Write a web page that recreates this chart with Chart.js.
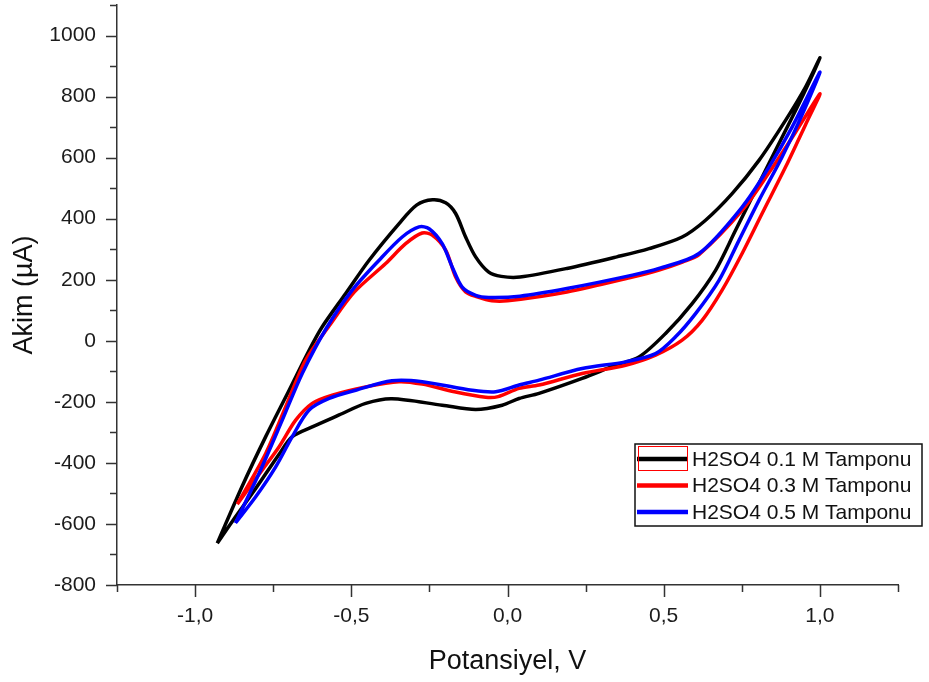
<!DOCTYPE html>
<html>
<head>
<meta charset="utf-8">
<script src="https://cdn.jsdelivr.net/npm/chart.js@4.4.1/dist/chart.umd.min.js"></script>
<style>
  body { margin: 0; background: #fff; }
  #wrap { width: 929px; height: 682px; }
</style>
</head>
<body>
<div id="wrap"><canvas id="cv" width="929" height="682"></canvas></div>
<script>
// series names
const seriesNames = ["H2SO4 0.1 M Tamponu", "H2SO4 0.3 M Tamponu", "H2SO4 0.5 M Tamponu"];
const seriesColors = ["#000000", "#ff0000", "#0000ff"];

// 0.1 M : forward scan then reverse scan (potential V, current uA)
const blackX = [-0.929, -0.85, -0.774, -0.699, -0.635, -0.593, -0.518, -0.443, -0.347, -0.29, -0.24, -0.198, -0.166, -0.134, -0.102, -0.06, -0.02, 0.04, 0.19, 0.35, 0.453, 0.559, 0.634, 0.719, 0.805, 0.89, 0.954, 1.0,
  0.933, 0.858, 0.794, 0.73, 0.666, 0.591, 0.506, 0.421, 0.346, 0.239, 0.101, 0.037, -0.017, -0.102, -0.209, -0.37, -0.454, -0.539, -0.625, -0.689, -0.73, -0.81, -0.88, -0.929];
const blackY = [-663, -478, -314, -162, -31, 46, 155, 264, 384, 445, 462, 452, 417, 340, 275, 225, 211, 209, 237, 275, 302, 340, 395, 482, 591, 722, 831, 927,
  777, 624, 493, 362, 231, 122, 24, -53, -80, -123, -172, -189, -211, -225, -211, -190, -205, -243, -282, -314, -370, -490, -590, -663];

// 0.3 M
const redX = [-0.865, -0.774, -0.71, -0.646, -0.57, -0.49, -0.39, -0.326, -0.273, -0.241, -0.198, -0.166, -0.134, -0.097, -0.05, 0.0, 0.19, 0.40, 0.485, 0.56, 0.613, 0.751, 0.84, 0.92, 1.0,
  0.954, 0.89, 0.815, 0.751, 0.687, 0.623, 0.559, 0.474, 0.378, 0.239, 0.101, 0.037, -0.03, -0.07, -0.17, -0.273, -0.347, -0.454, -0.561, -0.625, -0.678, -0.731, -0.785, -0.865];
const redY = [-535, -369, -216, -63, 50, 160, 253, 318, 353, 346, 297, 209, 160, 144, 131, 131, 160, 209, 232, 258, 282, 427, 555, 680, 809,
  708, 569, 417, 286, 166, 67, 2, -47, -80, -107, -145, -156, -183, -185, -167, -142, -134, -151, -178, -205, -260, -347, -423, -535];

// 0.5 M
const blueX = [-0.871, -0.795, -0.721, -0.657, -0.58, -0.497, -0.411, -0.337, -0.283, -0.251, -0.209, -0.177, -0.145, -0.102, -0.06, 0.04, 0.19, 0.40, 0.485, 0.613, 0.751, 0.837, 0.911, 1.0,
  0.943, 0.879, 0.805, 0.741, 0.677, 0.602, 0.538, 0.474, 0.378, 0.239, 0.101, 0.037, -0.038, -0.113, -0.273, -0.37, -0.486, -0.571, -0.635, -0.689, -0.742, -0.806, -0.871];
const blueY = [-597, -434, -260, -107, 41, 166, 264, 340, 373, 367, 318, 242, 176, 149, 142, 146, 171, 215, 237, 286, 438, 569, 700, 880,
  740, 602, 460, 329, 198, 89, 13, -42, -69, -91, -129, -145, -167, -162, -134, -131, -162, -189, -227, -314, -413, -511, -597];

// axis ticks
const xTickValues = [-1.0, -0.5, 0.0, 0.5, 1.0];
const xTickLabels = ["-1,0", "-0,5", "0,0", "0,5", "1,0"];
const yTickValues = [-800, -600, -400, -200, 0, 200, 400, 600, 800, 1000];

function toPoints(xs, ys) {
  return xs.map(function (x, i) { return { x: x, y: ys[i] }; });
}

Chart.defaults.font.family = "'Liberation Sans', Arial, sans-serif";
Chart.defaults.color = "#1b1b1b";

// tick marks: long for labelled ticks, short for the others
const tickMarks = {
  id: "tickMarks",
  afterDraw(chart) {
    const ctx = chart.ctx;
    const xs = chart.scales.x, ys = chart.scales.y;
    ctx.save();
    ctx.strokeStyle = "#333";
    ctx.lineWidth = 1.5;
    ctx.beginPath();
    xs.ticks.forEach(function (t) {
      const px = Math.round(xs.getPixelForValue(t.value)) + 0.5;
      const len = t.label ? 12 : 7;
      ctx.moveTo(px, xs.top);
      ctx.lineTo(px, xs.top + len);
    });
    ys.ticks.forEach(function (t) {
      const py = Math.round(ys.getPixelForValue(t.value)) + 0.5;
      const len = t.label ? 11 : 7;
      ctx.moveTo(ys.right, py);
      ctx.lineTo(ys.right - len, py);
    });
    ctx.stroke();
    ctx.restore();
  }
};

// boxed legend in the lower right
const boxLegend = {
  id: "boxLegend",
  afterDraw(chart) {
    const ctx = chart.ctx;
    const left = 635, top = 444, w = 287, h = 82;
    ctx.save();
    ctx.fillStyle = "#fff";
    ctx.fillRect(left, top, w, h);
    ctx.strokeStyle = "#111";
    ctx.lineWidth = 1.5;
    ctx.strokeRect(left, top, w, h);
    ctx.font = "21px 'Liberation Sans', Arial, sans-serif";
    ctx.textBaseline = "middle";
    chart.data.datasets.forEach(function (ds, i) {
      const cy = top + 15 + i * 26.5;
      ctx.strokeStyle = ds.borderColor;
      ctx.lineWidth = 4.5;
      ctx.beginPath();
      ctx.moveTo(left + 2, cy);
      ctx.lineTo(left + 53, cy);
      ctx.stroke();
      ctx.fillStyle = "#111";
      ctx.fillText(ds.label, left + 57, cy + 1);
    });
    // selection frame around the first sample
    ctx.strokeStyle = "#ff0000";
    ctx.lineWidth = 1;
    ctx.strokeRect(left + 3.5, top + 2.5, 49, 24);
    ctx.restore();
  }
};

const ctx = document.getElementById("cv").getContext("2d");
const myChart = new Chart(ctx, {
  type: "scatter",
  data: {
    datasets: [
      { label: seriesNames[0], data: toPoints(blackX, blackY), borderColor: seriesColors[0], order: 2 },
      { label: seriesNames[1], data: toPoints(redX, redY), borderColor: seriesColors[1], order: 1 },
      { label: seriesNames[2], data: toPoints(blueX, blueY), borderColor: seriesColors[2], order: 0 }
    ]
  },
  options: {
    responsive: false,
    animation: false,
    showLine: true,
    elements: {
      point: { radius: 0, hoverRadius: 0 },
      line: { borderWidth: 3.5, tension: 0.3, fill: false }
    },
    layout: { padding: { top: 5, right: 31, left: 0, bottom: 0 } },
    plugins: {
      legend: { display: false },
      tooltip: { enabled: false }
    },
    scales: {
      x: {
        type: "linear",
        min: -1.25,
        max: 1.25,
        afterFit: function (scale) {
          scale.height = 97;
          scale.paddingLeft = 0;
          scale.paddingRight = 0;
        },
        grid: { display: true, drawOnChartArea: false, drawTicks: false },
        border: { display: true, color: "#333", width: 1.5 },
        ticks: {
          stepSize: 0.25,
          autoSkip: false,
          maxRotation: 0,
          padding: 19,
          font: { size: 21 },
          callback: function (value) {
            const i = xTickValues.findIndex(function (v) { return Math.abs(v - value) < 1e-6; });
            return i >= 0 ? xTickLabels[i] : "";
          }
        },
        title: {
          display: true,
          text: "Potansiyel, V",
          color: "#111",
          font: { size: 27 },
          padding: 4
        }
      },
      y: {
        type: "linear",
        min: -800,
        max: 1100,
        afterFit: function (scale) {
          scale.width = 117;
          scale.paddingTop = 0;
          scale.paddingBottom = 0;
        },
        grid: { display: true, drawOnChartArea: false, drawTicks: false },
        border: { display: true, color: "#333", width: 1.5 },
        ticks: {
          stepSize: 100,
          autoSkip: false,
          padding: 21,
          font: { size: 21 },
          callback: function (value) {
            return yTickValues.indexOf(value) >= 0 ? String(value) : "";
          }
        },
        title: {
          display: true,
          text: "Akim (µA)",
          color: "#111",
          font: { size: 27 },
          padding: 8
        }
      }
    }
  },
  plugins: [tickMarks, boxLegend]
});
</script>
</body>
</html>
